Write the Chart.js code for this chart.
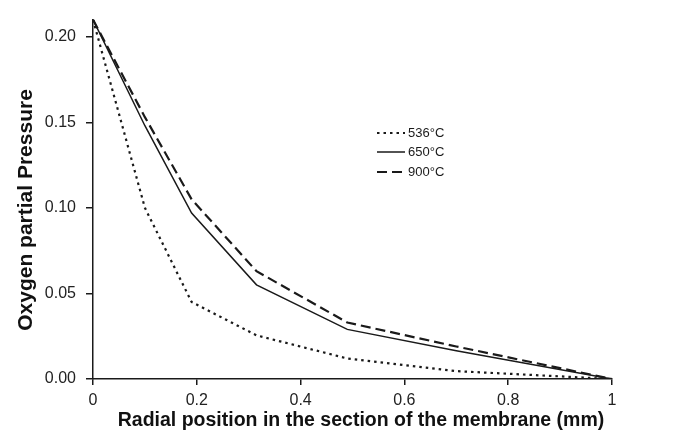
<!DOCTYPE html>
<html>
<head>
<meta charset="utf-8">
<script src="https://cdn.jsdelivr.net/npm/chart.js@4"></script>
<style>
  html, body { margin: 0; padding: 0; background: #fff; }
  #wrap { width: 674px; height: 437px; }
</style>
</head>
<body>
<div id="wrap"><canvas id="chart" width="674" height="437"></canvas></div>
<script>
// radial position (mm) and oxygen partial pressure for each temperature
const radialPos = [0, 0.1, 0.19, 0.315, 0.49, 0.7, 1];
const p536 = [0.21, 0.10, 0.045, 0.0255, 0.012, 0.0046, 0];
const p650 = [0.21, 0.148, 0.097, 0.055, 0.029, 0.0165, 0];
const p900 = [0.21, 0.153, 0.105, 0.063, 0.033, 0.019, 0];
const seriesLabels = ["536°C", "650°C", "900°C"];

const xTitle = "Radial position in the section of the membrane (mm)";
const yTitle = "Oxygen partial Pressure";

const ink = "#1a1a1a";
const toPoints = (ys) => radialPos.map((x, i) => ({ x, y: ys[i] }));

// legend + axis titles drawn by hand
const decor = {
  id: "decor",
  afterDraw(chart) {
    const c = chart.ctx;
    const rows = [133, 152, 172];
    c.save();
    chart.data.datasets.forEach((ds, i) => {
      c.beginPath();
      c.strokeStyle = ds.borderColor;
      c.lineWidth = ds.borderWidth;
      c.setLineDash(ds.borderDash || []);
      c.moveTo(377, rows[i]);
      c.lineTo(405, rows[i]);
      c.stroke();
      c.setLineDash([]);
      c.fillStyle = ink;
      c.font = "13px 'Liberation Sans', Arial, sans-serif";
      c.textBaseline = "middle";
      c.textAlign = "left";
      c.fillText(ds.label, 408, rows[i] + 0.5);
    });

    c.fillStyle = "#111";
    c.font = "bold 19.5px 'Liberation Sans', Arial, sans-serif";
    c.textAlign = "center";
    c.textBaseline = "middle";
    c.fillText(xTitle, 361, 421);

    c.translate(26, 210);
    c.rotate(-Math.PI / 2);
    c.font = "bold 21px 'Liberation Sans', Arial, sans-serif";
    c.fillText(yTitle, 0, 0);
    c.restore();
  }
};

new Chart(document.getElementById("chart"), {
  type: "line",
  data: {
    datasets: [
      {
        label: seriesLabels[0],
        data: toPoints(p536),
        borderColor: ink,
        borderWidth: 2.2,
        borderDash: [2.5, 4],
        pointRadius: 0,
        tension: 0
      },
      {
        label: seriesLabels[1],
        data: toPoints(p650),
        borderColor: ink,
        borderWidth: 1.5,
        pointRadius: 0,
        tension: 0
      },
      {
        label: seriesLabels[2],
        data: toPoints(p900),
        borderColor: ink,
        borderWidth: 2.2,
        borderDash: [10, 5],
        pointRadius: 0,
        tension: 0
      }
    ]
  },
  options: {
    responsive: false,
    animation: false,
    layout: { padding: { top: 12, right: 62, left: 0, bottom: 0 } },
    plugins: {
      legend: { display: false },
      tooltip: { enabled: false }
    },
    scales: {
      x: {
        type: "linear",
        min: 0,
        max: 1,
        afterFit: (s) => { s.height = 58; },
        border: { color: ink, width: 1.5 },
        grid: { drawOnChartArea: false, drawTicks: true, tickLength: 6, color: ink, lineWidth: 1.5 },
        ticks: {
          stepSize: 0.2,
          padding: 6,
          color: "#222",
          font: { family: "'Liberation Sans', Arial, sans-serif", size: 16 },
          maxRotation: 0,
          callback: (v) => (v === 0 || v === 1 ? String(v) : v.toFixed(1))
        }
      },
      y: {
        type: "linear",
        min: 0,
        max: 0.21,
        afterFit: (s) => { s.width = 93; },
        border: { color: ink, width: 1.5 },
        grid: { drawOnChartArea: false, drawTicks: true, tickLength: 7, color: ink, lineWidth: 1.5 },
        ticks: {
          stepSize: 0.05,
          includeBounds: false,
          padding: 10,
          color: "#222",
          font: { family: "'Liberation Sans', Arial, sans-serif", size: 16 },
          callback: (v) => v.toFixed(2)
        }
      }
    }
  },
  plugins: [decor]
});
</script>
</body>
</html>
